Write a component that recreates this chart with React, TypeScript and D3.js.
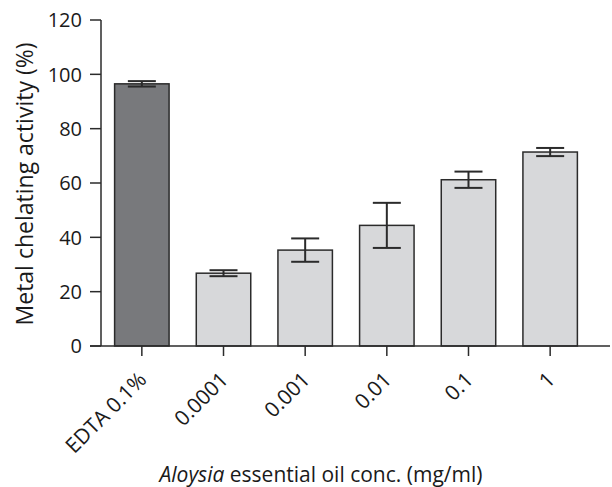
import React from "react";
import * as d3 from "d3";

const categories = ["EDTA 0.1%", "0.0001", "0.001", "0.01", "0.1", "1"];
const values = [96.5, 26.8, 35.3, 44.4, 61.2, 71.4];
const errors = [1.0, 1.1, 4.3, 8.3, 3.0, 1.5];
const yTicks = [0, 20, 40, 60, 80, 100, 120];

const width = 612;
const height = 487;
const left = 101;
const top = 20;
const bottom = 346;
const right = 591;
const font = "'Open Sans', 'DejaVu Sans', sans-serif";
const ink = "#2b2b2b";

export default function App() {
  const x = d3
    .scaleBand<string>()
    .domain(categories)
    .range([left, right])
    .paddingInner(0.333)
    .paddingOuter(0.1667);
  const y = d3.scaleLinear().domain([0, 120]).range([bottom, top]);
  const capHalf = 14;

  return (
    <svg
      width={width}
      height={height}
      style={{ position: "absolute", left: 0, top: 0 }}
      fontFamily={font}
    >
      <rect width={width} height={height} fill="#fff" />
      {categories.map((c, i) => (
        <rect
          key={c}
          x={x(c)}
          y={y(values[i])}
          width={x.bandwidth()}
          height={bottom - y(values[i])}
          fill={i === 0 ? "#78797c" : "#d7d8da"}
          stroke={ink}
          strokeWidth={1.5}
        />
      ))}
      {categories.map((c, i) => {
        const cx = (x(c) as number) + x.bandwidth() / 2;
        const hi = y(values[i] + errors[i]);
        const lo = y(values[i] - errors[i]);
        return (
          <g key={c} stroke={ink} strokeWidth={2}>
            <line x1={cx} x2={cx} y1={hi} y2={lo} />
            <line x1={cx - capHalf} x2={cx + capHalf} y1={hi} y2={hi} />
            <line x1={cx - capHalf} x2={cx + capHalf} y1={lo} y2={lo} />
          </g>
        );
      })}
      {/* axes */}
      <line x1={left} x2={left} y1={top} y2={bottom} stroke={ink} strokeWidth={1.5} />
      <line x1={left - 11} x2={610} y1={bottom} y2={bottom} stroke={ink} strokeWidth={1.5} />
      {yTicks.map((t) => (
        <g key={t}>
          <line x1={left - 11} x2={left} y1={y(t)} y2={y(t)} stroke={ink} strokeWidth={1.5} />
          <text
            x={82}
            y={y(t)}
            dy="0.36em"
            textAnchor="end"
            fontSize={20}
            fill="#1a1a1a"
          >
            {t}
          </text>
        </g>
      ))}
      {categories.map((c) => {
        const cx = (x(c) as number) + x.bandwidth() / 2;
        return (
          <g key={c}>
            <line x1={cx} x2={cx} y1={bottom} y2={bottom + 10} stroke={ink} strokeWidth={1.5} />
            <text
              transform={`translate(${cx + 6},${bottom + 35}) rotate(-45)`}
              textAnchor="end"
              fontSize={21}
              fill="#1a1a1a"
            >
              {c}
            </text>
          </g>
        );
      })}
      <text
        transform={`translate(33,184) rotate(-90)`}
        textAnchor="middle"
        fontSize={23}
        fill="#1a1a1a"
      >
        Metal chelating activity (%)
      </text>
      <text x={321} y={482} textAnchor="middle" fontSize={21} fill="#1a1a1a">
        <tspan fontStyle="italic">Aloysia</tspan> essential oil conc. (mg/ml)
      </text>
    </svg>
  );
}
